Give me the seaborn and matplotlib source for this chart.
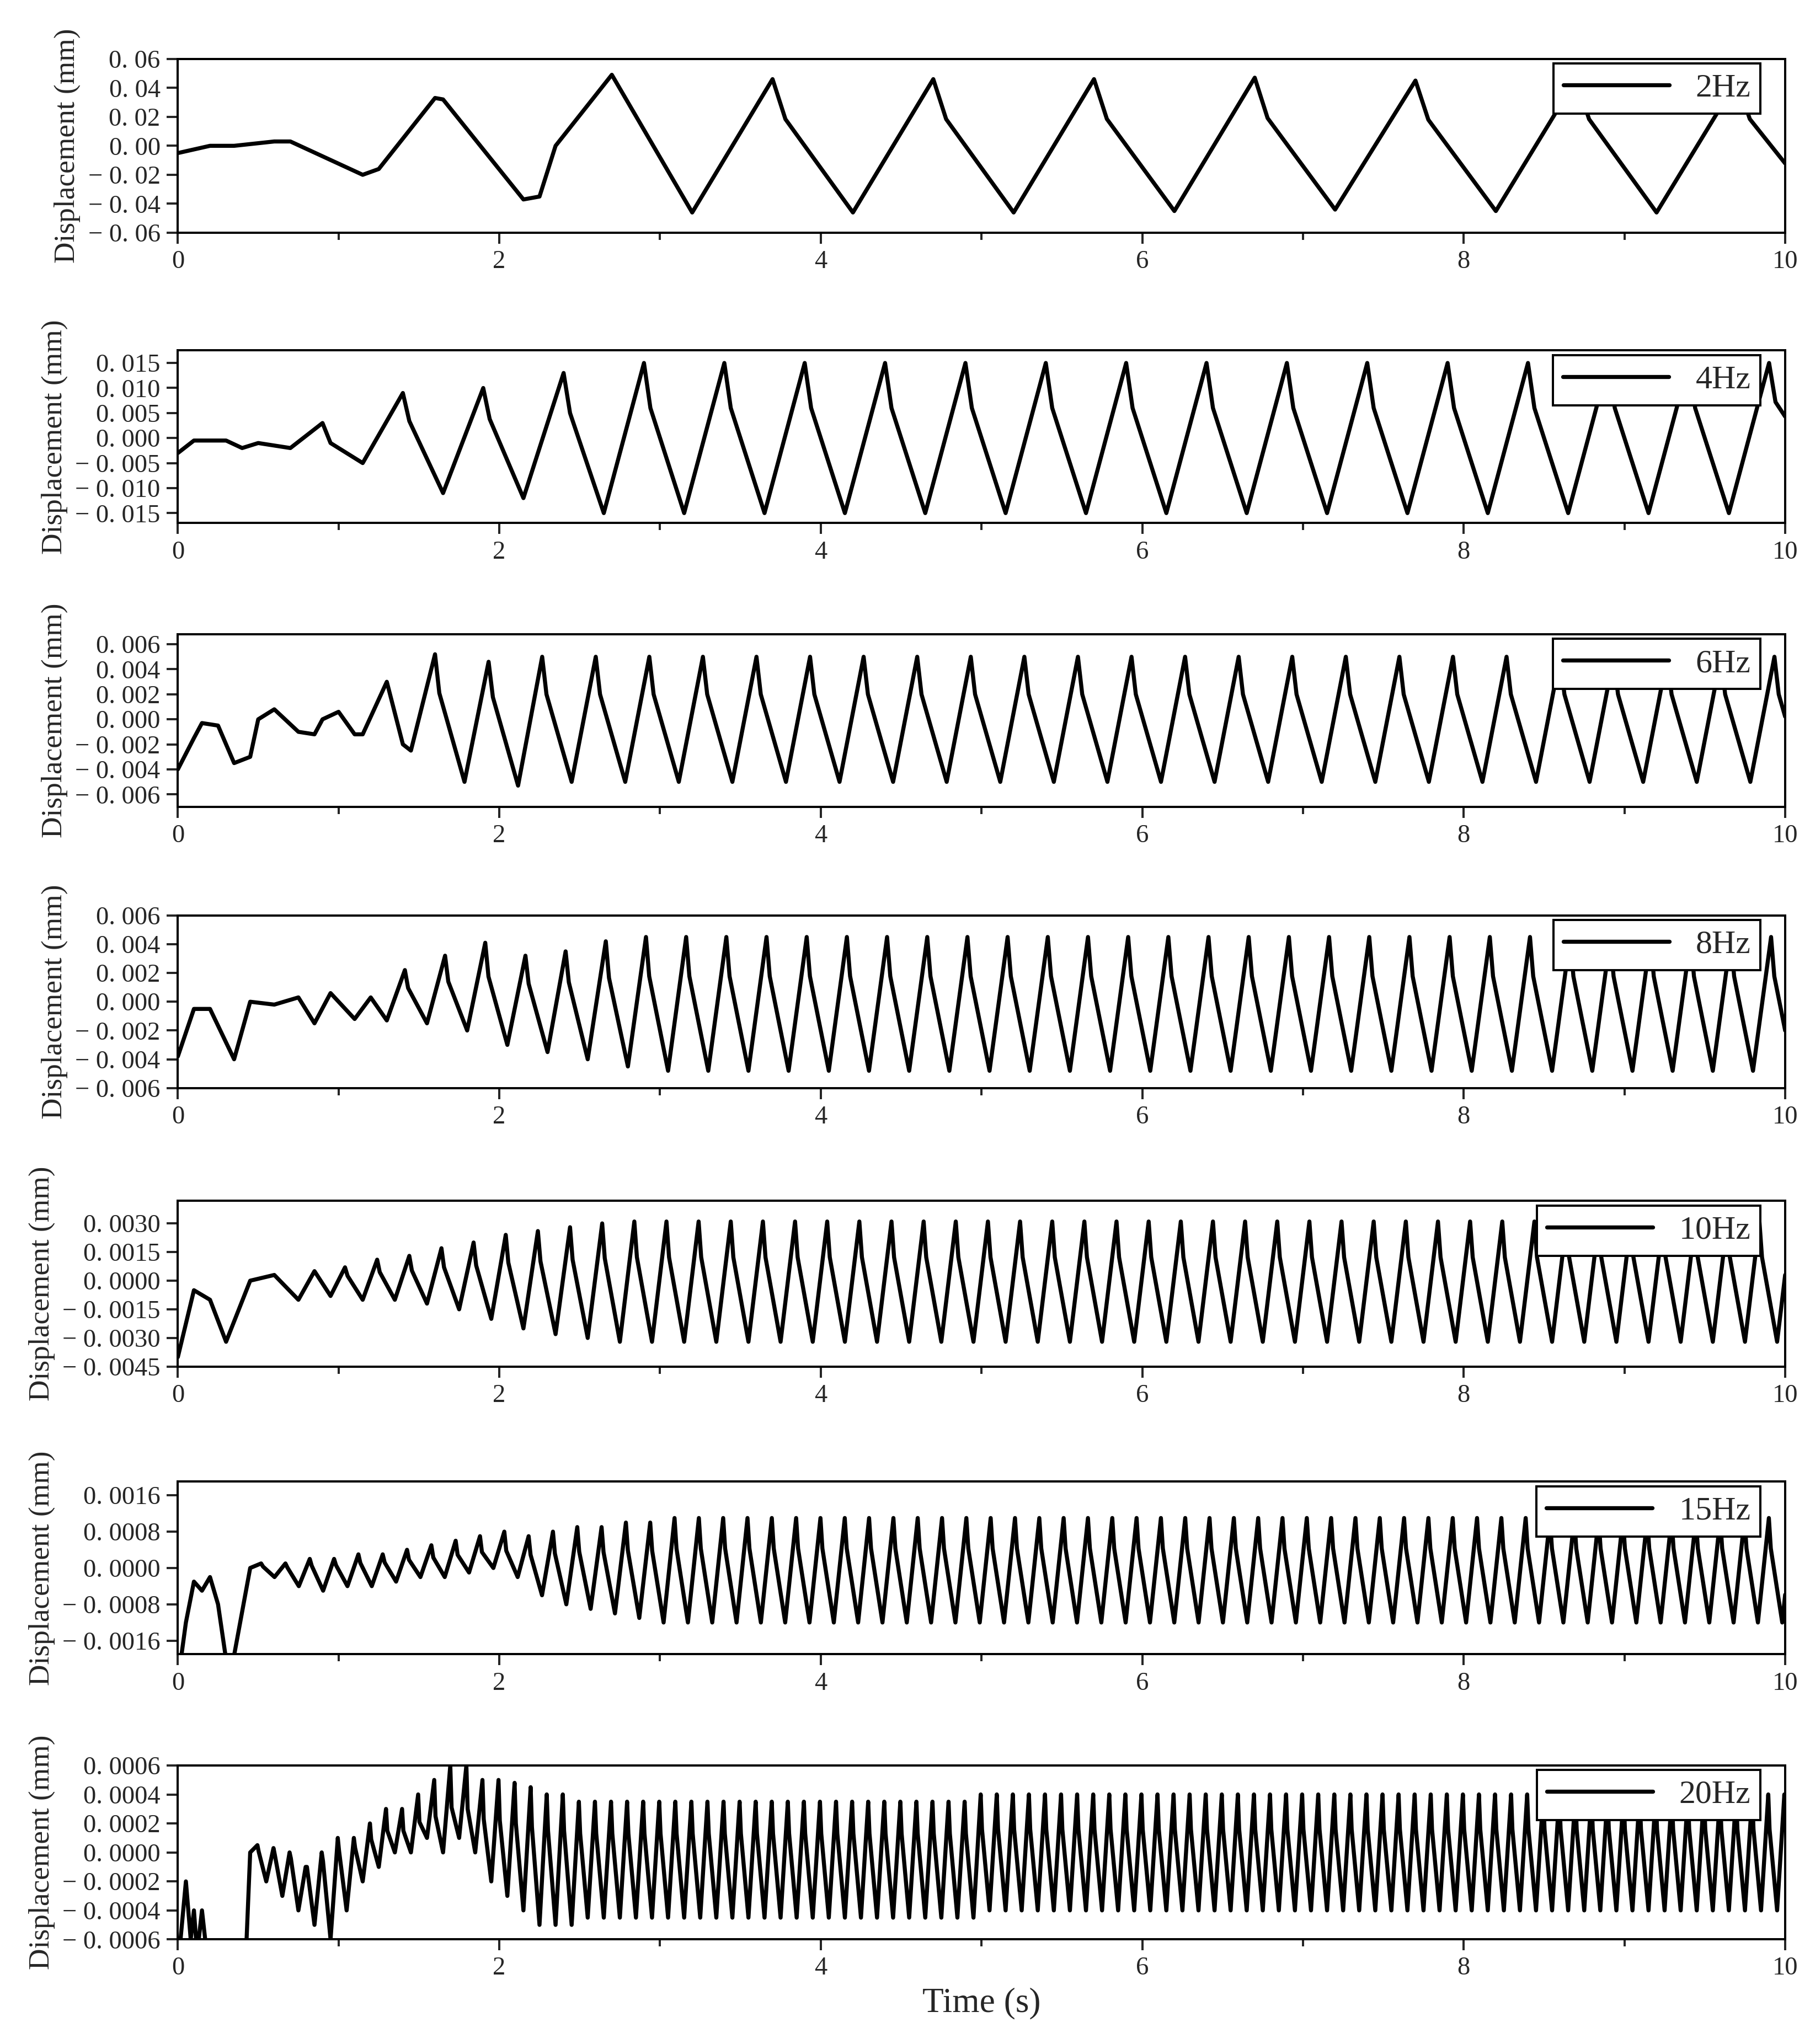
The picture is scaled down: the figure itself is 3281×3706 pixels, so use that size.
import numpy as np
import pandas as pd
import matplotlib
matplotlib.use("Agg")
import matplotlib.pyplot as plt
import seaborn as sns
from matplotlib.ticker import MultipleLocator, FuncFormatter

sns.set_style("ticks")
plt.rcParams['font.family'] = ['Liberation Serif', 'DejaVu Serif']

labels = ["2Hz", "4Hz", "6Hz", "8Hz", "10Hz", "15Hz", "20Hz"]

# ---- irregular start segments (time, value) ----
t_2 = [0, 0.2, 0.35, 0.6, 0.7, 1.15, 1.25, 1.6, 1.65, 2.15, 2.25, 2.35, 2.7, 2.8, 3.2]
v_2 = [-0.005, 0.0, 0.0, 0.003, 0.003, -0.02, -0.016, 0.033, 0.032, -0.037, -0.035, 0.0, 0.049, 0.03, -0.046]
pk_2 = [0.046, 0.046, 0.046, 0.047, 0.045, 0.046, 0.045]
tr_2 = [-0.046, -0.046, -0.045, -0.044, -0.045, -0.046, -0.04]

t_4 = [0, 0.1, 0.3, 0.4, 0.5, 0.7, 0.9, 0.95, 1.15]
v_4 = [-0.003, -0.0005, -0.0005, -0.002, -0.001, -0.002, 0.003, -0.001, -0.005]
pk_4 = [0.009, 0.010, 0.013, 0.015, 0.015, 0.015, 0.015, 0.015, 0.015, 0.015, 0.015, 0.015,
        0.015, 0.015, 0.015, 0.015, 0.015, 0.015]
tr_4 = [-0.011, -0.012, -0.015, -0.015, -0.015, -0.015, -0.015, -0.015, -0.015, -0.015, -0.015,
        -0.015, -0.015, -0.015, -0.015, -0.015, -0.015, -0.003]

t_6 = [0, 0.1, 0.15, 0.25, 0.35, 0.45, 0.5, 0.6, 0.75, 0.85, 0.9, 1.0, 1.1, 1.15, 1.3, 1.4, 1.45]
v_6 = [-0.004, -0.0015, -0.0003, -0.0005, -0.0035, -0.003, 0.0, 0.0008, -0.001, -0.0012, 0.0,
       0.0006, -0.0012, -0.0012, 0.003, -0.002, -0.0025]
pk_6 = [0.0052, 0.0046, 0.0050, 0.0050] + [0.0050] * 22
tr_6 = [-0.005, -0.0053, -0.005, -0.005] + [-0.005] * 22

t_8 = [0, 0.1, 0.2, 0.35, 0.45, 0.6, 0.75, 0.85, 0.95, 1.1, 1.2, 1.3]
v_8 = [-0.0038, -0.0005, -0.0005, -0.004, 0.0, -0.0002, 0.0003, -0.0015, 0.0006, -0.0012, 0.0003, -0.0013]
pk_8 = [0.0022, 0.0032, 0.0041, 0.0032, 0.0035, 0.0042, 0.0045] + [0.0045] * 29
tr_8 = [-0.0015, -0.002, -0.003, -0.0035, -0.004, -0.0045, -0.0048] + [-0.0048] * 29

t_10 = [0, 0.1, 0.2, 0.3, 0.45, 0.6, 0.75, 0.85, 0.95]
v_10 = [-0.004, -0.0005, -0.001, -0.0032, 0.0, 0.0003, -0.001, 0.0005, -0.0008]
pk_10 = [0.0007, 0.0011, 0.0013, 0.0017, 0.0020, 0.0024, 0.0026, 0.0028, 0.0030] + [0.0031] * 38
tr_10 = [-0.001, -0.001, -0.0012, -0.0015, -0.002, -0.0025, -0.0028, -0.003, -0.0032] + [-0.0032] * 38

t_15 = [0, 0.05, 0.1, 0.15, 0.2, 0.25, 0.32, 0.45]
v_15 = [-0.0025, -0.0012, -0.0003, -0.0005, -0.0002, -0.0008, -0.0025, 0.0]
pk_15 = [0.0001, 0.0001, 0.0002, 0.0002, 0.0003, 0.0003, 0.0004, 0.0005, 0.0006, 0.0007, 0.0008,
         0.0007, 0.0008, 0.0009, 0.0009, 0.0010, 0.0010, 0.0011, 0.0011] + [0.0011] * 46
tr_15 = [-0.0002, -0.0004, -0.0005, -0.0004, -0.0004, -0.0003, -0.0002, -0.0002, -0.0001, 0.0, -0.0002,
         -0.0006, -0.0008, -0.0009, -0.0010, -0.0011, -0.0012, -0.0012, -0.0012] + [-0.0012] * 46

t_20 = [0, 0.05, 0.08, 0.1, 0.12, 0.15, 0.18, 0.2, 0.42, 0.45]
v_20 = [-0.0008, -0.0002, -0.0006, -0.0004, -0.0007, -0.0004, -0.0007, -0.0008, -0.0008, 0.0]
pk_20 = [0.00005, 0.00003, 0.0, -0.0001, 0.0, 0.0001, 0.0001, 0.0002, 0.0003, 0.0003, 0.0004,
         0.0005, 0.0006, 0.0006, 0.0005, 0.0005, 0.00048, 0.00045, 0.0004, 0.0004] \
    + [0.00035] * 25 + [0.0004] * 52
tr_20 = [-0.0002, -0.0003, -0.0004, -0.0005, -0.0006, -0.0004, -0.0002, -0.0001, 0.0, 0.0,
         0.0001, 0.0, 0.0001, 0.0, -0.0002, -0.0003, -0.0004, -0.0005, -0.0005, -0.0005] \
    + [-0.00045] * 25 + [-0.0004] * 52

# start time and period of the regular section, rise fraction
segs = [
    (t_2, v_2, pk_2, tr_2, 3.2, 1.0, 0.5),
    (t_4, v_4, pk_4, tr_4, 1.15, 0.5, 0.5),
    (t_6, v_6, pk_6, tr_6, 1.45, 1 / 3, 0.45),
    (t_8, v_8, pk_8, tr_8, 1.3, 0.25, 0.45),
    (t_10, v_10, pk_10, tr_10, 0.95, 0.2, 0.45),
    (t_15, v_15, pk_15, tr_15, 0.45, 0.1513, 0.45),
    (t_20, v_20, pk_20, tr_20, 0.45, 0.1, 0.45),
]
ylims = [(-0.06, 0.06), (-0.017, 0.0175), (-0.007, 0.0068), (-0.006, 0.006),
         (-0.0045, 0.0042), (-0.0019, 0.0019), (-0.0006, 0.0006)]
ysteps = [0.02, 0.005, 0.002, 0.002, 0.0015, 0.0008, 0.0002]
ydec = [2, 3, 3, 3, 4, 4, 4]


def build(t0, v0, pk, tr, ts, P, rf):
    tt, vv = list(t0), list(v0)
    for i, (p, q) in enumerate(zip(pk, tr)):
        tp = ts + i * P + rf * P
        tt += [tp, tp + 0.08 * P, ts + (i + 1) * P]
        vv += [p, p * 0.5 + q * 0.1, q]
    tt, vv = np.array(tt), np.array(vv)
    end = np.interp(10.0, tt, vv)
    m = tt < 10.0
    return np.append(tt[m], 10.0), np.append(vv[m], end)


fig = plt.figure(figsize=(3281 / 240, 3706 / 240), dpi=240)
H = 1563.0
tops = [45, 268, 485, 700, 918, 1133, 1350]
bots = [178, 400, 617, 832, 1045, 1265, 1483]
axes = []
for k in range(7):
    ax = fig.add_axes([136 / 1384, 1 - bots[k] / H, (1365 - 136) / 1384, (bots[k] - tops[k]) / H])
    t0, v0, pk, tr, ts, P, rf = segs[k]
    tt, vv = build(t0, v0, pk, tr, ts, P, rf)
    df = pd.DataFrame({"t": tt, "v": vv})
    sns.lineplot(data=df, x="t", y="v", ax=ax, color="black", lw=2.2, label=labels[k],
                 sort=False, estimator=None)
    ax.set_xlim(0, 10)
    ax.set_ylim(*ylims[k])
    ax.xaxis.set_major_locator(MultipleLocator(2))
    ax.xaxis.set_minor_locator(MultipleLocator(1))
    ax.yaxis.set_major_locator(MultipleLocator(ysteps[k]))
    d = ydec[k]

    def fmt(v, pos, d=d):
        s = f"{abs(v):.{d}f}".replace(".", ". ")
        return ("− " + s) if v < -1e-12 else s
    ax.yaxis.set_major_formatter(FuncFormatter(fmt))
    ax.xaxis.set_major_formatter(FuncFormatter(lambda v, p: f"{v:.0f}"))
    ax.tick_params(axis="both", which="major", labelsize=14, direction="out", length=6, width=1.2)
    ax.tick_params(axis="x", which="minor", direction="out", length=4, width=1.2)
    for s in ax.spines.values():
        s.set_linewidth(1.2)
        s.set_color("black")
    ax.set_xlabel("")
    ax.set_ylabel("Displacement (mm)", fontsize=16)
    leg = ax.legend(loc="upper right", bbox_to_anchor=(0.995, 1.07), fontsize=18,
                    fancybox=False, framealpha=1, edgecolor="black", handlelength=3.2,
                    borderpad=0.3)
    leg.get_frame().set_linewidth(1.2)
    axes.append(ax)

axes[-1].set_xlabel("Time (s)", fontsize=19)
fig.align_ylabels(axes)
fig.savefig("out.png", dpi=240)
